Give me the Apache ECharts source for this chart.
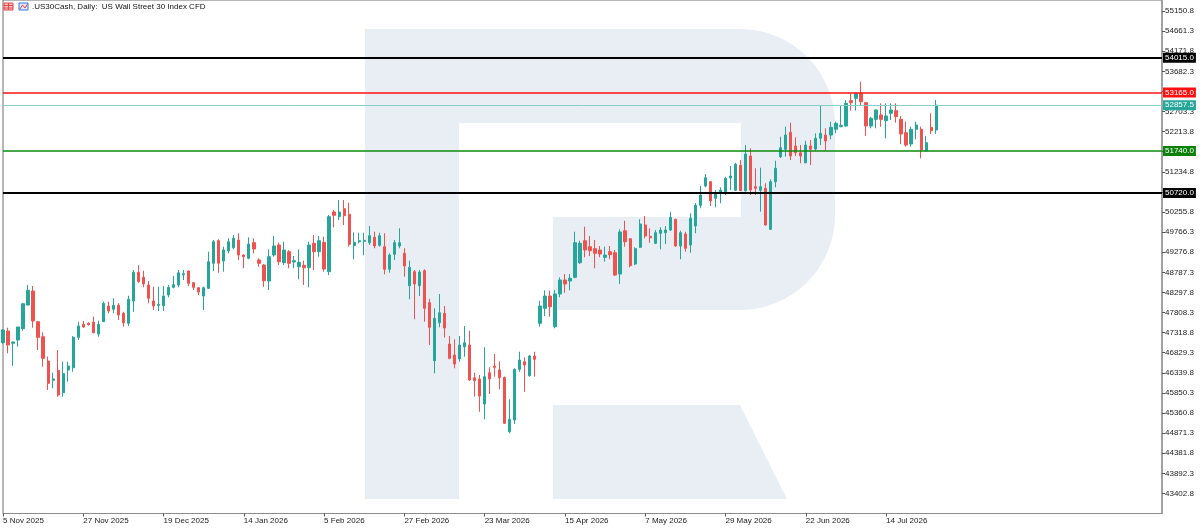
<!DOCTYPE html>
<html><head><meta charset="utf-8">
<script src="https://cdn.jsdelivr.net/npm/echarts@6/dist/echarts.min.js"></script>
<style>html,body{margin:0;padding:0;background:#fff;overflow:hidden}#c{width:1200px;height:528px}</style>
</head><body><div id="c"></div>
<script>
// ---- data ----
const dateLabels = ['5 Nov 2025','27 Nov 2025','19 Dec 2025','14 Jan 2026','5 Feb 2026','27 Feb 2026','23 Mar 2026','15 Apr 2026','7 May 2026','29 May 2026','22 Jun 2026','14 Jul 2026'];
const labelStep = 16;      // bars between date labels
const slotCount = 232;     // bar slots on the time axis (incl. empty right margin)
const yTickStart = 42913.3;
const yTickStep = 489.5;
const yMax = 55418.7;

const openP = [47073,47358,47058,47138,47414,47991,48332,47584,47219,46627,46157,46400,45855,46408,46464,47204,47521,47545,47569,47285,
47584,47966,47886,47983,47789,47545,48088,48787,48665,48478,48088,47983,47974,48234,48422,48478,48729,48819,48534,48412,
48210,48397,49006,49557,49062,49306,49386,49574,49208,49128,49508,49087,48965,48575,49208,49452,49021,49289,49038,48924,
48958,48899,49493,49289,49518,48802,50256,50141,50336,50200,49435,49532,49542,49508,49640,49445,49411,48860,49226,49428,
49250,48461,48802,48461,48826,48047,46634,47560,47789,47041,46773,46676,46975,47017,46220,46189,45580,46342,46505,46408,
46230,44905,45190,46425,46610,46269,46749,47545,47910,48210,47462,48259,48600,48575,48665,49021,49557,49411,49362,49330,
49152,49289,49264,48746,49800,49605,48989,49396,49939,49664,49493,49737,49752,49817,50078,49428,49720,49452,49915,50419,
50889,50994,50589,50711,50750,51084,50784,51393,50774,51620,50872,50784,50833,49834,50994,51602,51783,52197,51863,51700,
51456,51863,51790,52051,52131,52131,52270,52333,52350,52966,53025,53147,52918,52350,52513,52618,52479,52659,52723,52513,
52187,51912,52270,52270,51749,52318,52253];
const highP = [47406,47438,47097,47462,48039,48478,48454,47601,47326,46732,46342,46895,46610,46610,47236,47584,47601,47569,47706,47608,
48071,48071,48154,48039,47828,48217,48843,48965,48826,48575,48436,48436,48454,48478,48697,48843,48843,48830,48551,48430,
48436,49289,49574,49591,49411,49615,49696,49737,49233,49640,49615,49128,48989,49347,49671,49508,49532,49330,49184,49347,
49070,49532,49696,49671,49654,50183,50304,50548,50548,50482,49761,49752,49752,49915,49776,49752,49737,49250,49574,49859,
49372,49070,48843,48843,48860,48144,47910,48259,47966,47236,47155,47236,47479,47365,46342,46287,46961,46474,46797,46620,
46245,45694,46449,46853,46717,46773,46853,48096,48349,48339,48356,48665,48746,48746,49776,49557,49898,49671,49574,49428,
49411,49428,49330,49834,50044,49620,49396,50078,50158,49859,49817,49883,49915,50263,50090,49800,49776,50224,50475,50889,
51181,51000,50791,50857,51115,51376,51456,51522,51887,51807,51320,51335,50955,51052,51505,52090,52333,52431,52075,51887,
51992,52009,52172,52862,52294,52455,52455,52862,52983,53147,53161,53429,52930,52577,52757,52903,52903,52903,52903,52594,
52455,52333,52455,52333,52107,52659,52983];
const lowP = [47041,46814,46512,46975,47365,47980,47438,46895,46488,45921,45962,45758,45758,46123,46366,47138,47431,47496,47302,47219,
47577,47789,47789,47625,47462,47479,47828,48534,48422,48032,47869,47845,47845,48178,48397,48422,48600,48454,48356,48234,
47869,48380,48819,48777,48802,49250,49347,49087,48885,49104,49250,48924,48436,48356,49167,48965,48965,48885,48885,48617,
48478,48422,48843,49167,48802,48721,49883,50061,49939,49411,49104,49493,49201,49452,49372,49411,48738,48777,49087,49372,
48680,48130,47643,48210,47584,47017,46327,47448,47199,46668,46449,46610,46732,46147,45758,45392,45207,45823,46245,45938,
45093,44866,45093,46366,45879,46245,46245,47462,47723,47706,47423,48178,48290,48349,48641,48989,49152,49184,48885,49152,
49045,49104,48697,48502,49411,48909,48965,49380,49615,49508,49476,49347,49476,49800,49411,49104,49289,49264,49737,50346,
50857,50402,50370,50468,50670,50791,50770,50767,50750,50670,50670,50263,49925,49820,50857,51571,51602,51522,51620,51442,
51442,51400,51749,51887,51749,52026,52172,52320,52333,52723,52723,52837,52107,52294,52294,52333,52051,52496,52431,51912,
51846,51846,52026,51564,51724,52155,52155];
const closeP = [47382,47017,47090,47455,48022,48349,47601,47204,46693,46084,46189,45799,46318,46505,47204,47479,47455,47511,47316,47521,
48032,47845,47983,47747,47560,48130,48787,48558,48502,48154,47966,48008,48210,48422,48485,48777,48753,48519,48422,48307,
48412,49045,49532,49006,49330,49532,49615,49208,49167,49476,49355,49006,48583,49167,49428,49045,49330,49006,49070,49031,
48899,49452,49289,49557,48867,50141,50175,50256,50166,49469,49518,49557,49566,49679,49428,49679,48860,49208,49508,49508,
48941,48909,48502,48794,47910,47448,47667,47803,47431,46693,46554,47017,47073,46164,46147,45775,46245,46189,46474,46220,
45110,45207,46425,46651,46530,46749,46668,47966,48210,47949,48259,48600,48502,48641,49508,49493,49330,49313,49250,49233,
49208,49216,48721,49769,49532,48948,49362,49963,49671,49630,49752,49817,49817,50127,49428,49752,49372,50102,50419,50670,
51091,50524,50711,50791,51076,51132,51417,50774,51668,50791,50833,50872,49939,50994,51320,51822,52131,51620,51700,51620,
51887,51783,52051,52172,51985,52318,52416,52367,52903,52918,53147,52942,52350,52538,52740,52513,52594,52740,52577,52155,
51887,52270,52374,51766,51943,52236,52857.5];

const levelValues = [54015.0, 53165.0, 52857.5, 51740.0, 50720.0];

// ---- styles ----
const UP = '#26a69a', DOWN = '#ef5350';
const levelStyles = [
  {line:'#000000', width:2,   bg:'#000000'},
  {line:'#ff1010', width:1.5, bg:'#ff1010'},
  {line:'#86d0c7', width:1,   bg:'#26a69a'},
  {line:'#0b8a0b', width:1.5, bg:'#0b800b'},
  {line:'#000000', width:2,   bg:'#000000'}
];
const FONT = '"Liberation Sans", Arial, sans-serif';

const cats = [];
for (let i = 0; i < slotCount; i++) cats.push(String(i));
const candles = openP.map((o, i) => [o, closeP[i], lowP[i], highP[i]]);
const isLabelIdx = (idx) => idx % labelStep === 0 && idx / labelStep < dateLabels.length;

const WM = '#e9edf4';
const chart = echarts.init(document.getElementById('c'), null, {renderer: 'canvas'});
chart.setOption({
  animation: false,
  backgroundColor: '#ffffff',
  grid: {left: 1, right: 38, top: 0, bottom: 14.5, show: true, borderColor: '#6e6e6e', borderWidth: 1, backgroundColor: 'transparent'},
  xAxis: {
    type: 'category', data: cats, boundaryGap: false,
    axisLine: {show: true, lineStyle: {color: '#8c8c8c', width: 1}},
    axisTick: {show: true, length: 3, interval: (idx) => isLabelIdx(idx), lineStyle: {color: '#555'}},
    axisLabel: {interval: (idx) => isLabelIdx(idx), formatter: (v, idx) => isLabelIdx(idx) ? dateLabels[idx / labelStep] : '',
      align: 'left', fontSize: 8, color: '#1a1a1a', margin: 3, fontFamily: FONT},
    splitLine: {show: false}
  },
  yAxis: {
    type: 'value', position: 'right', min: yTickStart, max: yMax, interval: yTickStep, scale: true,
    axisLine: {show: true, lineStyle: {color: '#9a9a9a', width: 1.5}},
    axisTick: {show: true, length: 3, lineStyle: {color: '#555'}},
    axisLabel: {showMinLabel: false, showMaxLabel: false, formatter: (v) => v.toFixed(1), fontSize: 8, color: '#1a1a1a', margin: 3, fontFamily: FONT},
    splitLine: {show: false}
  },
  graphic: {elements: [
    // watermark R
    {type: 'rect', z: 0, silent: true, shape: {x: 365, y: 29, width: 94, height: 470}, style: {fill: WM}},
    {type: 'rect', z: 0, silent: true, shape: {x: 458, y: 29, width: 377, height: 281, r: [0, 95, 95, 0]}, style: {fill: WM}},
    {type: 'rect', z: 0, silent: true, shape: {x: 459, y: 123, width: 282, height: 94}, style: {fill: '#ffffff'}},
    {type: 'rect', z: 0, silent: true, shape: {x: 459, y: 216, width: 94, height: 95}, style: {fill: '#ffffff'}},
    {type: 'polygon', z: 0, silent: true, shape: {points: [[553, 405], [740, 405], [787, 499], [553, 499]]}, style: {fill: WM}},
    // title icons
    {type: 'rect', z: 5, silent: true, shape: {x: 4, y: 3, width: 9, height: 7}, style: {fill: '#f7c1c1', stroke: '#e0464f', lineWidth: 1}},
    {type: 'polyline', z: 6, silent: true, shape: {points: [[4, 5.5], [13, 5.5]]}, style: {stroke: '#e0464f', lineWidth: 1}},
    {type: 'polyline', z: 6, silent: true, shape: {points: [[4, 8], [13, 8]]}, style: {stroke: '#e0464f', lineWidth: 1}},
    {type: 'polyline', z: 6, silent: true, shape: {points: [[8.5, 3], [8.5, 10]]}, style: {stroke: '#e0464f', lineWidth: 1}},
    {type: 'rect', z: 5, silent: true, shape: {x: 19, y: 3, width: 9, height: 7}, style: {fill: '#dbe8fb', stroke: '#3f76d6', lineWidth: 1}},
    {type: 'polyline', z: 6, silent: true, shape: {points: [[20, 9], [22.5, 5], [25, 8], [27.5, 4]]}, style: {stroke: '#e0464f', lineWidth: 1, fill: null}},
    // title
    {type: 'text', z: 5, silent: true, left: 32, top: 3, style: {text: '.US30Cash, Daily:  US Wall Street 30 Index CFD', fontSize: 8, fill: '#111', fontFamily: FONT}}
  ]},
  series: [{
    type: 'candlestick', z: 3, data: candles, barWidth: 2.8, clip: true,
    itemStyle: {color: UP, color0: DOWN, borderColor: UP, borderColor0: DOWN, borderWidth: 1},
    markLine: {
      silent: true, animation: false, symbol: ['none', 'none'], precision: 1,
      data: levelValues.map((v, k) => ({
        yAxis: v,
        lineStyle: {color: levelStyles[k].line, width: levelStyles[k].width, type: 'solid'},
        label: {show: true, position: 'end', distance: 1, formatter: (p) => Number(p.value).toFixed(1),
          backgroundColor: levelStyles[k].bg, color: '#ffffff', fontSize: 8, fontFamily: FONT,
          padding: [1, 2, 0, 2], lineHeight: 9}
      }))
    }
  }]
});
</script></body></html>
